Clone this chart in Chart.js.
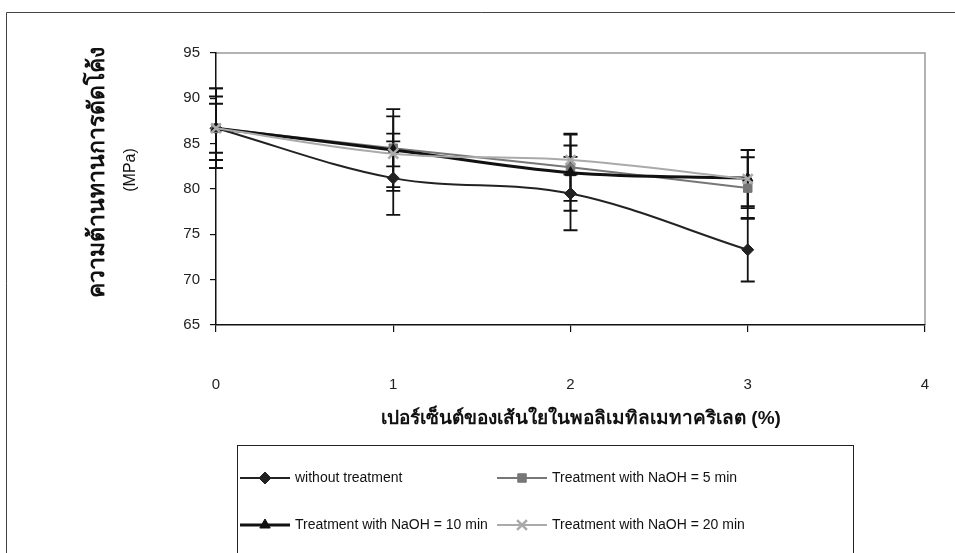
<!DOCTYPE html>
<html><head><meta charset="utf-8">
<script src="https://cdn.jsdelivr.net/npm/chart.js@4.4.1/dist/chart.umd.min.js"></script>
<style>html,body{margin:0;padding:0;background:#fff;}#wrap{position:relative;width:955px;height:553px;overflow:hidden;}</style>
</head><body><div id="wrap"><canvas id="c" width="955" height="553"></canvas></div>
<script>
// ---- data ----
const fiberPercent = [0, 1, 2, 3];
const seriesNames = ['without treatment', 'Treatment with NaOH = 5 min', 'Treatment with NaOH = 10 min', 'Treatment with NaOH = 20 min'];
const withoutTreatment = [86.7, 81.2, 79.5, 73.3];
const naoh5 = [86.7, 84.5, 82.4, 80.1];
const naoh10 = [86.7, 84.3, 81.8, 81.2];
const naoh20 = [86.7, 83.9, 83.2, 81.1];
const errWithout = [4.4, 4.05, 4.05, 3.5];
const err5 = [3.5, 4.3, 3.7, 3.4];
const err10 = [2.7, 1.8, 4.2, 3.1];
const err20 = [4.4, 4.1, 1.6, 3.2];
const xTitle = 'เปอร์เซ็นต์ของเส้นใยในพอลิเมทิลเมทาคริเลต (%)';
const yTitle = 'ความต้านทานการดัดโค้ง';
const yUnit = '(MPa)';

const FONT = "'Liberation Sans', Arial, sans-serif";
const styles = [
  {color: '#222', width: 2, point: 'rectRot', radius: 6, fill: '#222'},
  {color: '#777', width: 2, point: 'rect', radius: 6, fill: '#777'},
  {color: '#111', width: 3, point: 'triangle', radius: 6, fill: '#111'},
  {color: '#aaa', width: 2, point: 'crossRot', radius: 7, fill: '#aaa'}
];
const values = [withoutTreatment, naoh5, naoh10, naoh20];
const errors = [errWithout, err5, err10, err20];

const datasets = values.map((vals, k) => ({
  label: seriesNames[k],
  data: fiberPercent.map((x, i) => ({x: x, y: vals[i]})),
  errors: errors[k],
  borderColor: styles[k].color,
  backgroundColor: styles[k].fill,
  borderWidth: styles[k].width,
  pointStyle: styles[k].point,
  pointRadius: styles[k].radius,
  pointBorderColor: styles[k].fill,
  pointBackgroundColor: styles[k].fill,
  pointBorderWidth: k === 3 ? 2.5 : 1,
  tension: 0.35,
  clip: false,
  order: 3 - k
}));

const framePlugin = {
  id: 'frame',
  beforeDraw(chart) {
    const ctx = chart.ctx;
    ctx.save();
    ctx.strokeStyle = '#444';
    ctx.lineWidth = 1;
    ctx.beginPath();
    ctx.moveTo(6.5, 600); ctx.lineTo(6.5, 12.5); ctx.lineTo(960, 12.5);
    ctx.stroke();
    const a = chart.chartArea;
    ctx.strokeStyle = '#999';
    ctx.lineWidth = 1.5;
    ctx.beginPath();
    ctx.moveTo(a.left, a.top); ctx.lineTo(a.right, a.top); ctx.lineTo(a.right, a.bottom);
    ctx.stroke();
    ctx.restore();
  },
  beforeDatasetsDraw(chart) {
    const ctx = chart.ctx;
    const ys = chart.scales.y;
    ctx.save();
    ctx.strokeStyle = '#111';
    ctx.lineWidth = 1.8;
    chart.data.datasets.forEach((ds, k) => {
      const meta = chart.getDatasetMeta(k);
      meta.data.forEach((el, i) => {
        const v = ds.data[i].y, e = ds.errors[i];
        const y1 = ys.getPixelForValue(v + e), y2 = ys.getPixelForValue(v - e);
        ctx.beginPath();
        ctx.moveTo(el.x, y1); ctx.lineTo(el.x, y2);
        ctx.moveTo(el.x - 7, y1); ctx.lineTo(el.x + 7, y1);
        ctx.moveTo(el.x - 7, y2); ctx.lineTo(el.x + 7, y2);
        ctx.stroke();
      });
    });
    ctx.restore();
  },
  afterDraw(chart) {
    const ctx = chart.ctx;
    // x title
    ctx.save();
    ctx.fillStyle = '#111';
    ctx.textAlign = 'center';
    ctx.textBaseline = 'middle';
    ctx.font = 'bold 19px ' + FONT;
    ctx.fillText(xTitle, 581, 419);
    ctx.restore();
    // y titles
    ctx.save();
    ctx.fillStyle = '#111';
    ctx.textAlign = 'center';
    ctx.textBaseline = 'middle';
    ctx.translate(98, 172);
    ctx.rotate(-Math.PI / 2);
    ctx.font = 'bold 23px ' + FONT;
    ctx.fillText(yTitle, 0, 0);
    ctx.restore();
    ctx.save();
    ctx.fillStyle = '#111';
    ctx.textAlign = 'center';
    ctx.textBaseline = 'middle';
    ctx.translate(131, 170);
    ctx.rotate(-Math.PI / 2);
    ctx.font = '16px ' + FONT;
    ctx.fillText(yUnit, 0, 0);
    ctx.restore();
    // legend
    ctx.save();
    ctx.strokeStyle = '#222';
    ctx.lineWidth = 1;
    ctx.strokeRect(237.5, 445.5, 616, 200);
    const pos = [[240, 478], [497, 478], [240, 525], [497, 525]];
    chart.data.datasets.forEach((ds, k) => {
      const [lx, ly] = pos[k];
      ctx.strokeStyle = ds.borderColor;
      ctx.lineWidth = ds.borderWidth;
      ctx.beginPath(); ctx.moveTo(lx, ly); ctx.lineTo(lx + 50, ly); ctx.stroke();
      ctx.fillStyle = ds.pointBackgroundColor;
      ctx.strokeStyle = ds.pointBorderColor;
      ctx.lineWidth = ds.pointBorderWidth;
      Chart.helpers.drawPoint(ctx, {pointStyle: ds.pointStyle, radius: ds.pointRadius, rotation: 0, borderWidth: ds.pointBorderWidth}, lx + 25, ly);
      ctx.fillStyle = '#111';
      ctx.font = '14px ' + FONT;
      ctx.textAlign = 'left';
      ctx.textBaseline = 'middle';
      ctx.fillText(ds.label, lx + 55, ly);
    });
    ctx.restore();
  }
};

new Chart(document.getElementById('c'), {
  type: 'line',
  data: {datasets: datasets},
  plugins: [framePlugin],
  options: {
    responsive: false,
    animation: false,
    layout: {padding: {left: 0, top: 53, right: 30, bottom: 0}},
    plugins: {legend: {display: false}, tooltip: {enabled: false}},
    scales: {
      x: {
        type: 'linear', min: 0, max: 4,
        ticks: {stepSize: 1, font: {family: FONT, size: 15}, color: '#222', padding: 44},
        grid: {drawOnChartArea: false, drawTicks: true, tickLength: 7, color: '#111', lineWidth: 1.2},
        border: {display: true, color: '#111', width: 1.5},
        afterFit(s) { s.height = 228; s.paddingLeft = 0; s.paddingRight = 0; }
      },
      y: {
        min: 65, max: 95,
        ticks: {stepSize: 5, font: {family: FONT, size: 15}, color: '#222', padding: 10},
        grid: {drawOnChartArea: false, drawTicks: true, tickLength: 6, color: '#111', lineWidth: 1.2},
        border: {display: true, color: '#111', width: 1.5},
        afterFit(s) { s.width = 216; }
      }
    }
  }
});
</script>
</body></html>
